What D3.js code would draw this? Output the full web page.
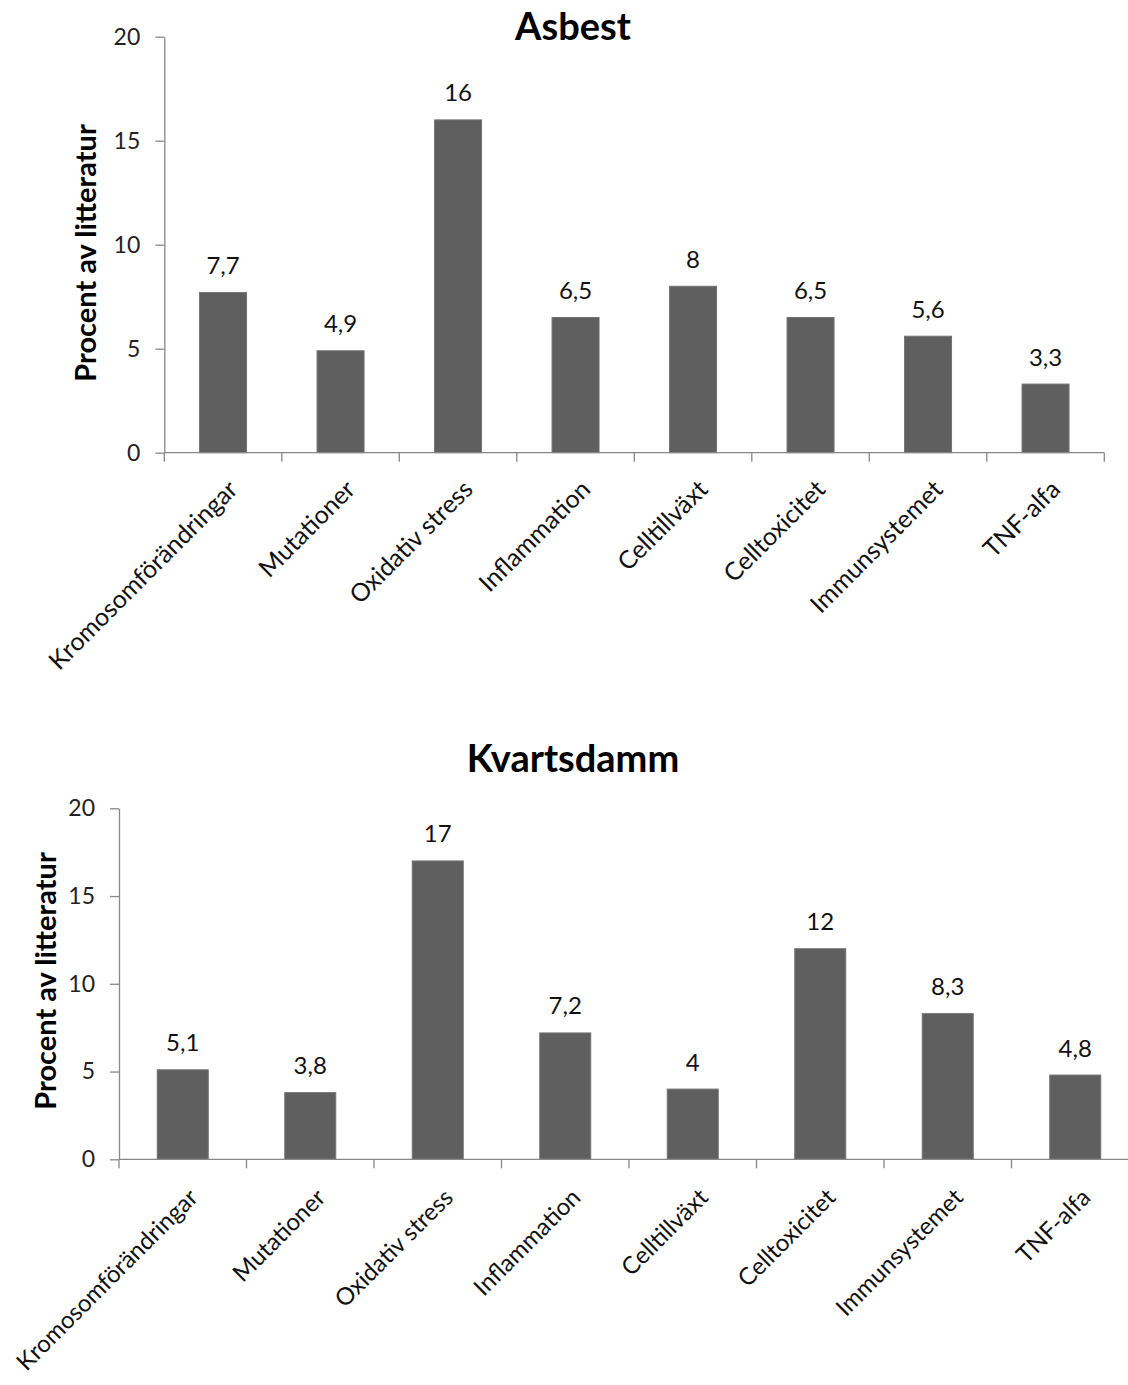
<!DOCTYPE html>
<html>
<head>
<meta charset="utf-8">
<script src="https://cdn.jsdelivr.net/npm/d3@7"></script>
<style>
  html, body { margin: 0; padding: 0; background: #fff; }
  svg { display: block; font-family: Lato, "Open Sans", sans-serif; }
</style>
</head>
<body>
<svg id="chart" width="1128" height="1385"></svg>
<script>
// Categories shared by both panels
const categories = [
  "Kromosomförändringar", "Mutationer", "Oxidativ stress", "Inflammation",
  "Celltillväxt", "Celltoxicitet", "Immunsystemet", "TNF-alfa"
];
// Share of literature (%) per effect
const asbestValues = [7.7, 4.9, 16, 6.5, 8, 6.5, 5.6, 3.3];
const kvartsValues = [5.1, 3.8, 17, 7.2, 4, 12, 8.3, 4.8];
const yTicks = [0, 5, 10, 15, 20];
const titles = ["Asbest", "Kvartsdamm"];
const yAxisTitle = "Procent av litteratur";

const svg = d3.select("#chart");
const AXIS_COLOR = "#888888";
const BAR_COLOR = "#5f5f5f";
const fmt = v => String(v).replace(".", ",");

function drawPanel(values, title, L) {
  const g = svg.append("g");

  const x = d3.scaleBand().domain(categories).range([L.left, L.right]).padding(0);
  const y = d3.scaleLinear().domain([0, 20]).range([L.bottom, L.top]);
  const barW = x.step() * 0.4;

  // title
  g.append("text")
    .attr("x", 573).attr("y", L.titleY)
    .attr("text-anchor", "middle")
    .attr("font-weight", "bold").attr("font-size", 38)
    .attr("fill", "#000")
    .text(title);

  // y axis title
  g.append("text")
    .attr("transform", `translate(${L.yTitleX},${L.yTitleY}) rotate(-90)`)
    .attr("text-anchor", "middle")
    .attr("font-weight", "bold").attr("font-size", 29)
    .attr("fill", "#000")
    .text(yAxisTitle);

  // y axis
  const yAxis = g.append("g")
    .attr("transform", `translate(${L.left},0)`)
    .call(d3.axisLeft(y).tickValues(yTicks).tickSize(9).tickPadding(15).tickSizeOuter(0));
  yAxis.select(".domain").attr("stroke", AXIS_COLOR).attr("stroke-width", 1.3);
  yAxis.selectAll(".tick line").attr("stroke", AXIS_COLOR).attr("stroke-width", 1.3);
  yAxis.selectAll(".tick text")
    .attr("font-family", "Lato, sans-serif")
    .attr("font-size", 23).attr("fill", "#222");

  // bars
  g.selectAll("rect.bar").data(values).join("rect")
    .attr("class", "bar")
    .attr("x", (d, i) => x(categories[i]) + (x.step() - barW) / 2)
    .attr("y", d => y(d))
    .attr("width", barW)
    .attr("height", d => y(0) - y(d))
    .attr("fill", BAR_COLOR)
    .attr("stroke", "#737373").attr("stroke-width", 1);

  // value labels
  g.selectAll("text.val").data(values).join("text")
    .attr("class", "val")
    .attr("x", (d, i) => x(categories[i]) + x.step() / 2)
    .attr("y", d => y(d) - 18.5)
    .attr("text-anchor", "middle")
    .attr("font-size", 24).attr("fill", "#111")
    .text(d => fmt(d));

  // x axis: ticks on category boundaries
  const boundaries = categories.map(c => x(c)).concat([L.right]);
  const xg = g.append("g");
  xg.append("line")
    .attr("x1", L.left).attr("x2", L.right)
    .attr("y1", y(0)).attr("y2", y(0))
    .attr("stroke", AXIS_COLOR).attr("stroke-width", 1.3);
  xg.selectAll("line.tk").data(boundaries).join("line")
    .attr("class", "tk")
    .attr("x1", d => d).attr("x2", d => d)
    .attr("y1", y(0)).attr("y2", y(0) + 9)
    .attr("stroke", AXIS_COLOR).attr("stroke-width", 1.3);

  // rotated category labels
  xg.selectAll("text.cat").data(categories).join("text")
    .attr("class", "cat")
    .attr("transform", c => `translate(${x(c) + x.step() / 2 + L.catDx},${y(0) + L.catDy}) rotate(-45)`)
    .attr("text-anchor", "end")
    .attr("dy", "0.75em")
    .attr("font-size", L.catSize).attr("fill", "#111")
    .text(c => c);
}

drawPanel(asbestValues, titles[0], {
  left: 164.3, right: 1104.3, top: 36.7, bottom: 452.7,
  titleY: 40, yTitleX: 96, yTitleY: 253,
  catDx: 3, catDy: 25, catSize: 25
});
drawPanel(kvartsValues, titles[1], {
  left: 119, right: 1139, top: 808.3, bottom: 1159.3,
  titleY: 772, yTitleX: 56, yTitleY: 981,
  catDx: 4, catDy: 27, catSize: 24
});
</script>
</body>
</html>
